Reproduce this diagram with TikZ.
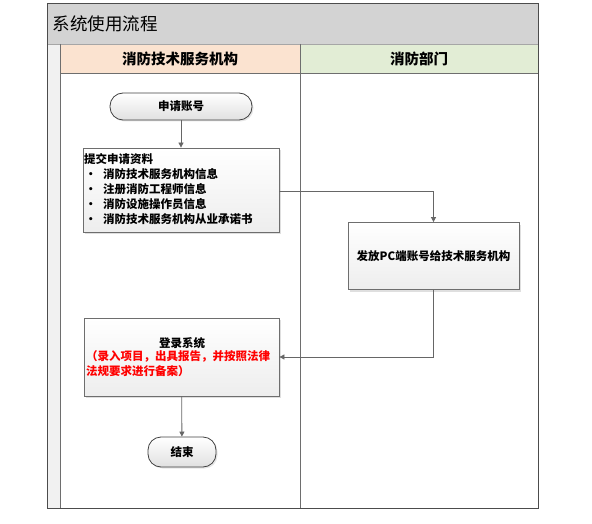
\documentclass[tikz,border=0pt]{standalone}
\usepackage{fontspec}
\setmainfont{Noto Sans CJK SC}
\usetikzlibrary{shadows,arrows.meta}
\definecolor{titlegray}{HTML}{D3D3D3}
\definecolor{framegray}{HTML}{6E6E6E}
\definecolor{peach}{HTML}{FBE3D0}
\definecolor{lgreen}{HTML}{E2EDD5}
\definecolor{stripgray}{HTML}{F1F1F1}
\definecolor{boxfill}{HTML}{F3F3F3}
\definecolor{redtxt}{HTML}{FF0000}
\tikzset{
  lane/.style={draw=framegray, line width=0.8pt},
  procbox/.style={draw=framegray, line width=0.8pt, top color=white, bottom color=boxfill!85!gray!60,
    drop shadow={opacity=0.25, shadow xshift=2pt, shadow yshift=-2pt}},
  pill/.style={draw=black!75, line width=0.8pt, rounded corners=13pt, top color=white, bottom color=black!12,
    drop shadow={opacity=0.2, shadow xshift=1.5pt, shadow yshift=-1.5pt}, font=\fontsize{11.5}{13}\selectfont\bfseries},
  conn/.style={draw=black!60, line width=0.8pt, -{Triangle[length=5pt,width=5pt]}},
}
\begin{document}
\begin{tikzpicture}[x=1pt,y=-1pt]
\useasboundingbox (0,0) rectangle (592,524);
% title bar
\fill[titlegray] (47,4) rectangle (538,44);
\node[anchor=west, font=\fontsize{17.5}{20}\selectfont] (title) at (49,24) {系统使用流程};
% left strip
\fill[stripgray] (47,44) rectangle (60,508);
% lane headers
\fill[peach] (60,44) rectangle (300,73);
\fill[lgreen] (300,44) rectangle (538,73);
\node[font=\fontsize{14.5}{16}\selectfont\bfseries] (h1) at (180,59) {消防技术服务机构};
\node[font=\fontsize{14.5}{16}\selectfont\bfseries] (h2) at (419,59) {消防部门};
% lane lines
\draw[lane, draw=black!35] (47,44) -- (538,44);
\draw[lane] (60,44) -- (60,508);
\draw[lane] (300,44) -- (300,508);
\draw[lane] (60,73) -- (538,73);
\draw[lane, draw=black!70, line width=1pt] (47,4) rectangle (538,508);
% nodes
\node[pill, minimum width=142pt, minimum height=27pt] (start) at (181,106.5) {申请账号};
\node[procbox, minimum width=196pt, minimum height=84pt] (submit) at (181,190) {};
\node[anchor=north west, align=left, inner sep=0pt, font=\fontsize{11.5}{15}\selectfont\bfseries] (submittxt) at (84,153)
  {提交申请资料\\
   \makebox[19pt][l]{\hspace{1pt}•}消防技术服务机构信息\\
   \makebox[19pt][l]{\hspace{1pt}•}注册消防工程师信息\\
   \makebox[19pt][l]{\hspace{1pt}•}消防设施操作员信息\\
   \makebox[19pt][l]{\hspace{1pt}•}消防技术服务机构从业承诺书};
\node[procbox, minimum width=171pt, minimum height=67pt, font=\fontsize{11.5}{13}\selectfont\bfseries] (issue) at (433.5,256) {发放PC端账号给技术服务机构};
\node[procbox, minimum width=195pt, minimum height=78pt] (login) at (181.5,357) {};
\node[font=\fontsize{11.5}{13}\selectfont\bfseries] (logintitle) at (182,343) {登录系统};
\node[anchor=north west, align=left, inner sep=0pt, text=redtxt, font=\fontsize{11.5}{14.5}\selectfont\bfseries] (logintxt) at (86,350.5)
  {（录入项目，出具报告，并按照法律\\法规要求进行备案）};
\node[pill, minimum width=68pt, minimum height=30pt] (end) at (182,452) {结束};
% connectors
\draw[conn] (start) -- (submit);
\draw[conn] (submit.east |- 0,191) -| (issue.north);
\draw[conn] (issue.south) |- (login.east |- 0,357);
\draw[conn] (login) -- (end);
\end{tikzpicture}
\end{document}
